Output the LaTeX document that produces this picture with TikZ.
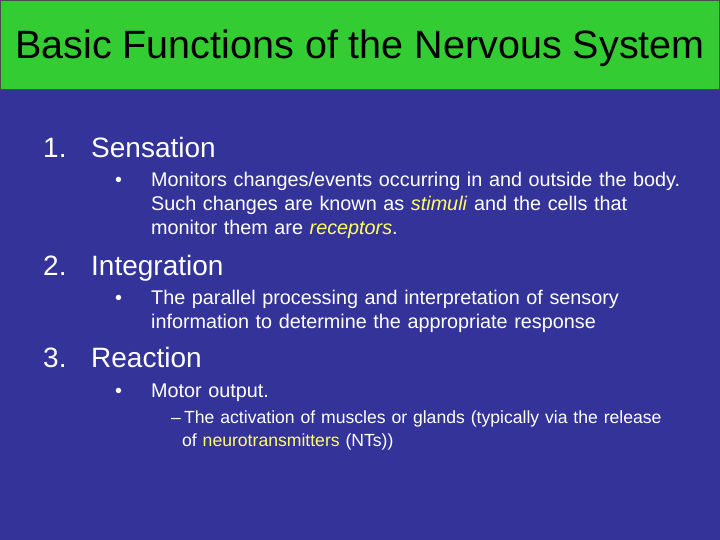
\documentclass[tikz,border=0pt]{standalone}
\usepackage{fontspec}
\setmainfont{Liberation Sans}
\definecolor{bg}{HTML}{333399}
\definecolor{tbar}{HTML}{33CC33}
\definecolor{hl}{HTML}{FFFF66}
\begin{document}
\begin{tikzpicture}[x=1pt,y=-1pt,
  every node/.style={text=white,inner sep=0pt,anchor=base west},
  lvl1/.style={font=\fontsize{28}{32}\selectfont},
  lvl2/.style={font=\fontsize{19.8}{24}\selectfont,align=left,text width=565pt},
  lvl3/.style={font=\fontsize{17.6}{23}\selectfont,align=left,text width=530pt}]
\useasboundingbox (0,0) rectangle (720,540);
\fill[bg] (0,0) rectangle (720,540);
\fill[tbar,draw=black!70,line width=1pt] (0.5,0.5) rectangle (719.5,90);
\node[anchor=base,text=black,font=\fontsize{39.5}{44}\selectfont] (title) at (360,59) {Basic Functions of the Nervous System};
\node[lvl1] (n1) at (43,158) {1.};
\node[lvl1] (s1) at (91,158) {Sensation};
\node[lvl2,text width=20pt] (b1) at (115,187) {•};
\node[lvl2] (t1) at (151,187) {Monitors changes/events occurring in and outside the body.\\Such changes are known as \textcolor{hl}{\textit{stimuli}} and the cells that\\monitor them are \textcolor{hl}{\textit{receptors}}.};
\node[lvl1] (n2) at (43,275) {2.};
\node[lvl1] (s2) at (91,275) {Integration};
\node[lvl2,text width=20pt] (b2) at (115,304) {•};
\node[lvl2] (t2) at (151,304) {The parallel processing and interpretation of sensory\\information to determine the appropriate response};
\node[lvl1] (n3) at (43,367) {3.};
\node[lvl1] (s3) at (91,367) {Reaction};
\node[lvl2,text width=20pt] (b3) at (115,397) {•};
\node[lvl2] (t3) at (151,397) {Motor output.};
\node[lvl3,text width=12pt] (d1) at (171,423) {–};
\node[lvl3] (t4) at (182,423) {\hspace{2pt}The activation of muscles or glands (typically via the release\\of \textcolor{hl}{neurotransmitters} (NTs))};
\end{tikzpicture}
\end{document}
